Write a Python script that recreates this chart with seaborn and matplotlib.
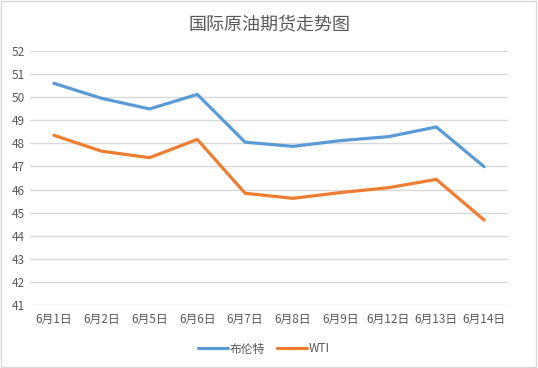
import matplotlib
matplotlib.use("Agg")
import matplotlib.pyplot as plt
import pandas as pd
import seaborn as sns
from matplotlib.patches import Rectangle

sns.set_theme(style="white")
plt.rcParams["font.family"] = ["Noto Sans CJK SC", "DejaVu Sans"]

dates = ["6月1日", "6月2日", "6月5日", "6月6日", "6月7日",
         "6月8日", "6月9日", "6月12日", "6月13日", "6月14日"]
brent = [50.60, 49.95, 49.49, 50.12, 48.05, 47.87, 48.12, 48.29, 48.71, 46.99]
wti = [48.35, 47.66, 47.38, 48.17, 45.84, 45.62, 45.87, 46.08, 46.44, 44.68]
series = ["布伦特", "WTI"]
colors = {"布伦特": "#5B9BD5", "WTI": "#ED7D31"}

df = pd.DataFrame({"date": dates * 2,
                   "price": brent + wti,
                   "series": [series[0]] * len(dates) + [series[1]] * len(dates)})

fig = plt.figure(figsize=(5.38, 3.68), dpi=100)
ax = fig.add_axes([30 / 538, 1 - 305 / 368, 478 / 538, 254 / 368])
sns.lineplot(data=df, x="date", y="price", hue="series", palette=colors,
             linewidth=2.3, sort=False, ax=ax, legend=False)

ax.set_xlim(-0.5, len(dates) - 0.5)
ax.set_ylim(41, 52)
ax.set_yticks(range(41, 53))
ax.yaxis.grid(True, color="#D9D9D9", lw=1)
ax.set_axisbelow(True)
for s in ax.spines.values():
    s.set_visible(False)
ax.tick_params(axis="both", length=0, labelsize=8.5, colors="#595959", pad=6)
ax.tick_params(axis="y", pad=4)
ax.set_xlabel(""); ax.set_ylabel("")

fig.text(0.5, 1 - 25 / 368, "国际原油期货走势图", ha="center", va="center",
         fontsize=13, color="#595959")

handles = [plt.Line2D([], [], color=colors[n], lw=2.3) for n in series]
fig.legend(handles, series, loc="center", bbox_to_anchor=(0.49, 1 - 349 / 368),
           ncol=2, frameon=False, fontsize=8.5, handlelength=2.6,
           handletextpad=0.1, columnspacing=1.0, labelcolor="#595959")

fig.patches.append(Rectangle((0.002, 0.003), 0.995, 0.994, transform=fig.transFigure,
                             fill=False, edgecolor="#D9D9D9", lw=1))
fig.savefig("out.png", dpi=100, facecolor="white")
